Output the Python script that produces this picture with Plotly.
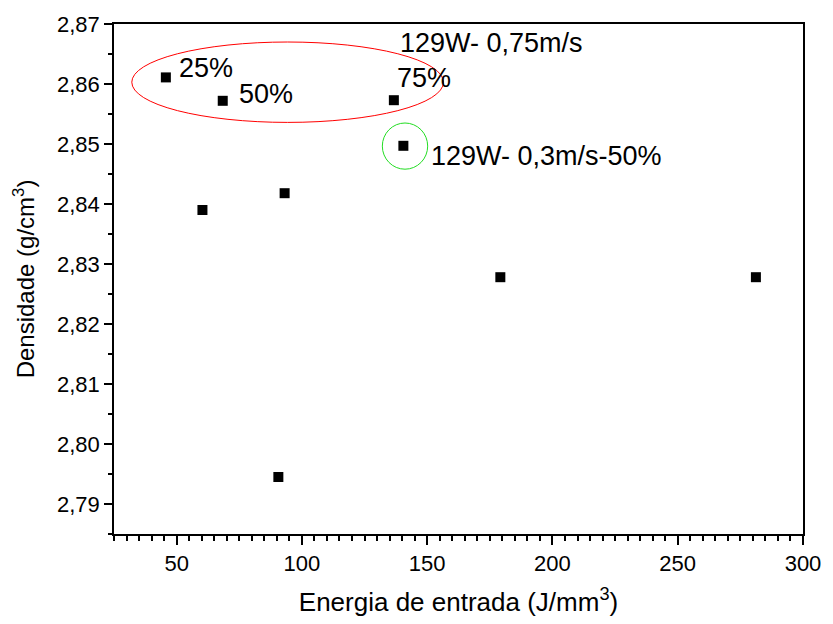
import plotly.graph_objects as go

# Data
energia = [45.7, 68.4, 136.7, 140.5, 93.1, 60.3, 179.2, 281.2, 90.6]
densidade = [2.8611, 2.8572, 2.8573, 2.8497, 2.8418, 2.8390, 2.8278, 2.8278, 2.7945]

# Annotation labels (data coordinates)
label_text = ["25%", "50%", "75%", "129W- 0,75m/s", "129W- 0,3m/s-50%"]
label_x = [50.2, 73.9, 137.0, 138.3, 150.8]
label_y = [2.8627, 2.8583, 2.8610, 2.8668, 2.8480]

# Highlight ellipses (data coordinates)
red_ellipse = dict(x0=32.1, x1=156.5, y0=2.8536, y1=2.8670)
green_circle = dict(x0=132.1, x1=150.2, y0=2.8458, y1=2.8535)

y_ticks = [2.79, 2.80, 2.81, 2.82, 2.83, 2.84, 2.85, 2.86, 2.87]
y_ticktext = ["2,79", "2,80", "2,81", "2,82", "2,83", "2,84", "2,85", "2,86", "2,87"]
x_ticks = [50, 100, 150, 200, 250, 300]

FONT = "Liberation Sans, Arial, sans-serif"

fig = go.Figure()
fig.add_trace(go.Scatter(
    x=energia, y=densidade, mode="markers",
    marker=dict(symbol="square", size=10, color="black"),
    showlegend=False, hoverinfo="x+y"))

fig.add_shape(type="circle", xref="x", yref="y", line=dict(color="red", width=1),
              **red_ellipse)
fig.add_shape(type="circle", xref="x", yref="y", line=dict(color="#22dd22", width=1),
              **green_circle)

for t, x, y in zip(label_text, label_x, label_y):
    fig.add_annotation(x=x, y=y, xref="x", yref="y", text=t, showarrow=False,
                       xanchor="left", yanchor="middle",
                       font=dict(family=FONT, size=27, color="black"))

fig.update_layout(
    width=833, height=624,
    margin=dict(l=114, r=21, t=17, b=89),
    paper_bgcolor="white", plot_bgcolor="white",
    font=dict(family=FONT, color="black"),
)
fig.update_xaxes(
    range=[25, 300], tickvals=x_ticks, ticks="outside", ticklen=9, tickwidth=1.5,
    tickcolor="black", linecolor="black", linewidth=1.5, mirror=True, showgrid=False,
    zeroline=False, tickfont=dict(family=FONT, size=22),
    minor=dict(dtick=5, tick0=0, ticks="outside", ticklen=5, tickwidth=1.5, tickcolor="black", showgrid=False),
    title=dict(text="Energia de entrada (J/mm<sup>3</sup>)", font=dict(family=FONT, size=26), standoff=18),
)
fig.update_yaxes(
    range=[2.785, 2.87], tickvals=y_ticks, ticktext=y_ticktext, ticks="outside", ticklen=8,
    tickwidth=1.5, tickcolor="black", linecolor="black", linewidth=1.5, mirror=True,
    showgrid=False, zeroline=False, tickfont=dict(family=FONT, size=22),
    minor=dict(dtick=0.005, tick0=2.79, ticks="outside", ticklen=4, tickwidth=1.5, tickcolor="black", showgrid=False),
    title=dict(text="Densidade (g/cm<sup>3</sup>)", font=dict(family=FONT, size=24), standoff=16),
)

fig.write_html("out.html")
